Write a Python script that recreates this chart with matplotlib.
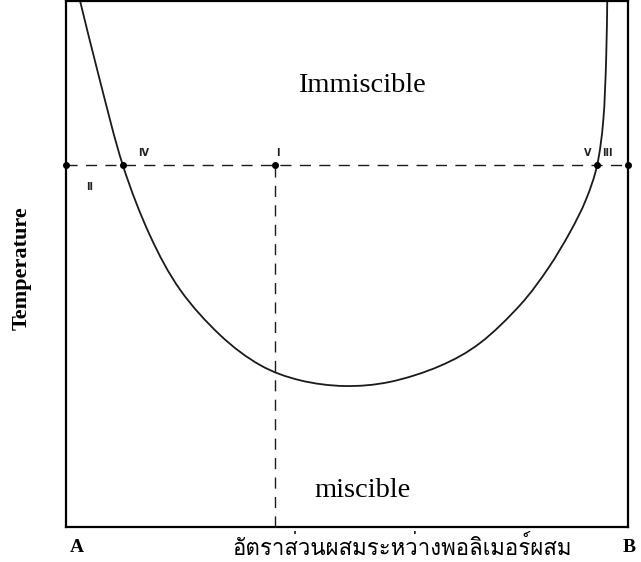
import numpy as np
import matplotlib
matplotlib.use("Agg")
import matplotlib.pyplot as plt
from matplotlib import font_manager
from matplotlib.path import Path
from matplotlib.patches import PathPatch

# -----------------------------
# --- Data: binodal curve (composition % B, temperature % of range)
# -----------------------------
comp = [2.5, 6.0, 10.1, 14.9, 20.3, 27.4, 34.5, 41.6, 49.6,
        57.7, 66.5, 73.7, 80.8, 85.8, 89.7, 92.5, 94.5, 95.6, 96.1, 96.3]
temp = [100, 85.0, 68.8, 55.5, 45.1, 36.5, 30.8, 27.9, 26.8,
        27.6, 30.6, 35.0, 42.2, 49.2, 56.1, 62.2, 68.8, 77.4, 88.8, 100]

tie_temp = 68.8
tie_comp = [0, 10.1, 37.2, 94.5, 100]
tie_labels = ["II", "IV", "I", "V", "III"]


# -----------------------------
# --- Find a font that can draw Thai
# -----------------------------
def find_thai_font():
    try:
        from fontTools.ttLib import TTFont
    except ImportError:
        return None
    for f in font_manager.fontManager.ttflist:
        try:
            cmap = TTFont(f.fname, fontNumber=0, lazy=True).getBestCmap()
        except Exception:
            continue
        if cmap and 0x0E2D in cmap and 0x0E31 in cmap:
            return f.name
    return None


thai_family = find_thai_font()
thai_fonts = [thai_family, "DejaVu Sans"] if thai_family else ["DejaVu Sans"]


# smooth path through the curve points (Catmull-Rom -> cubic Bezier)
def smooth_path(xs, ys):
    p = np.column_stack([xs, ys]).astype(float)
    p = np.vstack([p[0], p, p[-1]])
    verts = [p[1]]
    codes = [Path.MOVETO]
    for i in range(1, len(p) - 2):
        c1 = p[i] + (p[i + 1] - p[i - 1]) / 6
        c2 = p[i + 1] - (p[i + 2] - p[i]) / 6
        verts += [c1, c2, p[i + 1]]
        codes += [Path.CURVE4] * 3
    return Path(verts, codes)


# -----------------------------
# --- Figure
# -----------------------------
fig = plt.figure(figsize=(6.41, 5.62), dpi=100)
ax = fig.add_axes([0.103, 0.0623, 0.8768, 0.936])
ax.set_xlim(0, 100)
ax.set_ylim(0, 100)
ax.set_xticks([])
ax.set_yticks([])
for s in ax.spines.values():
    s.set_linewidth(1.6)

curve = PathPatch(smooth_path(comp, temp), facecolor="none",
                  edgecolor="#1a1a1a", lw=1.3)
ax.add_patch(curve)

# tie line and vertical composition line
dash = (0, (8, 6))
ax.plot([0, 100], [tie_temp, tie_temp], ls=dash, color="#1a1a1a",
        lw=1.0, clip_on=False)
ax.plot([tie_comp[2], tie_comp[2]], [0, tie_temp], ls=dash,
        color="#1a1a1a", lw=1.0)
ax.plot(tie_comp, [tie_temp] * len(tie_comp), "o", color="black", ms=4,
        clip_on=False)

offsets = [(17, -16), (15, 9), (2, 9), (-7, 9), (-15, 9)]
for c, lab, off in zip(tie_comp, tie_labels, offsets):
    ax.annotate(lab, (c, tie_temp), xytext=off, textcoords="offset points",
                ha="center", va="center", fontsize=7, fontweight="bold",
                family="DejaVu Sans", color="#222222")

ax.text(52.7, 84, "Immiscible", ha="center", va="center",
        fontsize=20.5, family="Liberation Serif")
ax.text(52.7, 7.0, "miscible", ha="center", va="center",
        fontsize=20.5, family="Liberation Serif")

fig.text(22 / 641, 1 - 268 / 562, "Temperature", rotation=90, ha="center",
         va="center", fontsize=16, fontweight="bold", family="Liberation Serif")
fig.text(77 / 641, 1 - 548 / 562, "A", ha="center", va="center",
         fontsize=14, fontweight="bold", family="Liberation Serif")
fig.text(629 / 641, 1 - 548 / 562, "B", ha="center", va="center",
         fontsize=14, fontweight="bold", family="Liberation Serif")
fig.text(402 / 641, 1 - 548 / 562, "อัตราส่วนผสมระหว่างพอลิเมอร์ผสม",
         ha="center", va="center", fontsize=16, family=thai_fonts)

fig.savefig("out.png", dpi=100)
